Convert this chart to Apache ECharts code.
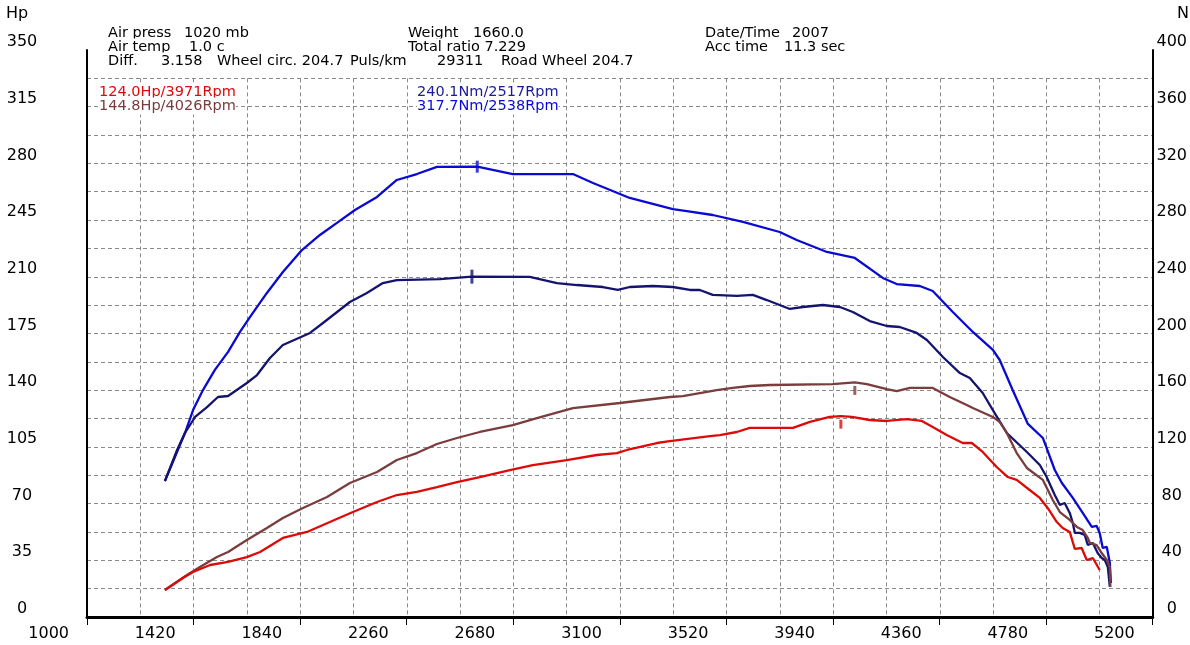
<!DOCTYPE html>
<html>
<head>
<meta charset="utf-8">
<script src="https://cdn.jsdelivr.net/npm/echarts@6/dist/echarts.min.js"></script>
<style>
  html, body { margin: 0; padding: 0; background: #fff; }
  #chart { width: 1190px; height: 645px; }
</style>
</head>
<body>
<div id="chart"></div>
<script>
// wheel power (Hp, left axis)
const rpmWheelHp = [1307,1378,1418,1485,1556,1630,1682,1772,1867,1957,2048,2143,2221,2300,2379,2458,2548,2667,2757,2891,3009,3088,3128,3246,3297,3455,3494,3561,3612,3782,3849,3927,3971,4014,4085,4152,4231,4290,4333,4388,4451,4487,4530,4585,4629,4664,4715,4755,4786,4822,4845,4873,4893,4920,4940,4964,4991];
const wheelHp = [16.7,24.1,27.8,32.1,34.0,37.0,40.1,48.8,52.5,58.6,64.8,71.0,75.3,77.2,80.2,83.3,86.4,90.7,93.8,96.9,100.0,101.2,103.1,107.4,108.6,111.7,112.3,114.2,116.7,116.7,120.4,123.5,124.0,123.5,121.6,121.0,122.2,121.0,117.3,112.3,107.4,107.4,101.9,92.6,86.4,84.6,78.4,73.5,67.3,58.6,54.9,52.5,42.0,42.6,35.2,36.4,29.0];

// engine power (Hp, left axis)
const rpmEngHp = [1307,1394,1445,1512,1556,1630,1709,1772,1851,1946,2036,2143,2221,2300,2379,2458,2548,2678,2773,2915,3100,3297,3348,3482,3545,3612,3691,3939,4026,4073,4152,4191,4243,4333,4400,4467,4491,4570,4597,4625,4664,4704,4767,4806,4834,4873,4901,4924,4944,4952,4979,4999,5019,5031,5033];
const engHp = [16.7,25.9,30.9,37.0,40.1,47.5,54.9,61.1,67.3,74.1,82.7,89.5,96.9,101.2,106.8,110.5,114.2,118.5,122.8,129.0,132.1,135.8,136.4,140.1,141.4,142.6,143.2,143.8,144.8,143.8,140.7,139.5,141.4,141.4,135.8,130.9,129.0,123.5,120.4,113.6,101.2,92.0,84.6,72.2,64.8,59.9,55.6,53.7,48.8,45.7,44.4,39.5,35.2,30.9,18.5];

// wheel torque (Nm, right axis)
const rpmWheelTq = [1307,1355,1386,1426,1473,1516,1556,1630,1670,1721,1772,1879,1930,2036,2103,2166,2221,2391,2517,2745,2852,2931,3033,3092,3139,3230,3309,3376,3415,3466,3561,3624,3679,3770,3821,3900,3967,4018,4085,4152,4203,4270,4310,4373,4440,4479,4530,4570,4625,4704,4755,4782,4814,4834,4853,4873,4885,4893,4912,4932,4944,4964,4983,4999,5011,5023,5031];
const wheelTq = [95.9,117.8,129.8,141.1,148.1,155.2,155.9,165.1,170.7,182.7,191.9,200.4,207.4,222.2,228.6,235.6,237.7,238.4,240.1,239.9,235.6,234.2,232.8,230.7,232.8,233.5,232.8,230.7,230.7,227.2,226.5,227.2,223.6,217.3,218.7,220.1,218.7,215.2,208.8,205.3,204.6,200.4,195.4,183.4,172.1,168.6,158.0,146.0,129.8,116.4,107.2,98.8,86.1,79.0,80.4,73.4,66.3,59.3,59.3,57.9,50.8,52.2,45.1,41.6,40.2,35.3,21.2];

// engine torque (Nm, right axis)
const rpmEngTq = [1307,1386,1418,1457,1504,1556,1603,1642,1709,1772,1847,1918,1985,2056,2143,2221,2300,2379,2538,2678,2915,2994,3139,3309,3364,3466,3585,3730,3797,3916,4026,4136,4191,4282,4333,4412,4491,4570,4597,4648,4708,4767,4814,4842,4885,4924,4960,4979,4991,5003,5019,5031,5035];
const engTq = [95.9,129.8,146.0,160.1,174.3,187.0,201.1,211.6,228.6,243.4,258.9,269.5,278.0,287.1,296.3,308.3,312.5,317.5,317.7,312.5,312.5,306.2,295.6,287.8,286.4,283.6,278.7,271.6,266.0,257.5,253.3,239.2,234.9,233.5,230.0,215.2,201.1,188.4,181.3,160.1,136.2,126.3,103.7,94.5,84.0,73.4,63.5,64.2,59.3,48.7,49.4,38.1,24.0];

// peaks [rpm, value]
const wheelHpPeak = [3971, 124.0];
const engHpPeak = [4026, 144.8];
const wheelTqPeak = [2517, 240.1];
const engTqPeak = [2538, 317.7];

// axis ticks
const rpmMin = 1000, rpmMax = 5200, rpmStep = 420;
const hpMax = 350, hpStep = 35;
const nmMax = 400, nmStep = 40;

const RED = '#dd0a0a', BROWN = '#7a3c3c', NAVY = '#14146e', BLUE = '#0a0ad0';
const FONT = '"DejaVu Sans", sans-serif';

function zip(xs, ys) { return xs.map(function (x, i) { return [x, ys[i]]; }); }
function plain(v) { return String(v); }

const chart = echarts.init(document.getElementById('chart'));

function txt(x, y, text, color, z2) {
    return {
        type: 'text', x: x, y: y, z: 100, z2: z2,
        style: {
            text: text, fill: color || '#000',
            fontSize: 14.5, fontFamily: FONT,
            verticalAlign: 'middle',
            backgroundColor: '#fff', padding: [2, 0, 0, 0]
        }
    };
}

const axisLine = { show: true, onZero: false, lineStyle: { color: '#000', width: 2 } };
const labelStyle = { color: '#000', fontSize: 16, fontFamily: FONT, formatter: plain };
const gridStyle = { show: true, lineStyle: { color: '#8a8a8a', type: [4, 3], width: 1 } };

chart.setOption({
    animation: false,
    backgroundColor: '#fff',
    grid: [
        { left: 87, right: 37, top: 50, bottom: 28 },
        { left: 87, right: 37, top: 78.35, bottom: 28 }
    ],
    xAxis: [
        {
            type: 'value', gridIndex: 0, min: rpmMin, max: rpmMax, interval: rpmStep,
            axisLine: { show: true, onZero: false, lineStyle: { color: '#000', width: 3 } },
            axisTick: { show: true, length: 8, lineStyle: { color: '#000', width: 1 } },
            axisLabel: Object.assign({ align: 'right', padding: [0, 18, 0, 0], margin: 9 }, labelStyle),
            splitLine: { show: false }
        },
        {
            type: 'value', gridIndex: 1, min: rpmMin, max: rpmMax, interval: rpmStep / 2,
            axisLine: { show: false }, axisTick: { show: false }, axisLabel: { show: false },
            splitLine: gridStyle
        }
    ],
    yAxis: [
        {
            type: 'value', gridIndex: 0, min: 0, max: hpMax, interval: hpStep, position: 'left',
            axisLine: axisLine, axisTick: { show: false },
            axisLabel: Object.assign({ align: 'center', verticalAlign: 'bottom', margin: 65 }, labelStyle),
            splitLine: { show: false }
        },
        {
            type: 'value', gridIndex: 0, min: 0, max: nmMax, interval: nmStep, position: 'right',
            axisLine: axisLine, axisTick: { show: false },
            axisLabel: Object.assign({ align: 'center', verticalAlign: 'bottom', margin: 19 }, labelStyle),
            splitLine: { show: false }
        },
        {
            type: 'value', gridIndex: 1, min: 0, max: 19, interval: 1,
            axisLine: { show: false }, axisTick: { show: false }, axisLabel: { show: false },
            splitLine: gridStyle
        }
    ],
    series: [
        {
            type: 'line', xAxisIndex: 0, yAxisIndex: 1, data: zip(rpmEngTq, engTq),
            showSymbol: false, lineStyle: { color: BLUE, width: 2.3 }, z: 3
        },
        {
            type: 'line', xAxisIndex: 0, yAxisIndex: 1, data: zip(rpmWheelTq, wheelTq),
            showSymbol: false, lineStyle: { color: NAVY, width: 2.3 }, z: 4
        },
        {
            type: 'line', xAxisIndex: 0, yAxisIndex: 0, data: zip(rpmEngHp, engHp),
            showSymbol: false, lineStyle: { color: BROWN, width: 2.3 }, z: 5
        },
        {
            type: 'line', xAxisIndex: 0, yAxisIndex: 0, data: zip(rpmWheelHp, wheelHp),
            showSymbol: false, lineStyle: { color: RED, width: 2.3 }, z: 6
        },
        {
            type: 'scatter', xAxisIndex: 0, yAxisIndex: 1, data: [engTqPeak],
            symbol: 'rect', symbolSize: [3, 12], itemStyle: { color: BLUE }, z: 7
        },
        {
            type: 'scatter', xAxisIndex: 0, yAxisIndex: 1, data: [wheelTqPeak],
            symbol: 'rect', symbolSize: [3, 14], itemStyle: { color: NAVY }, z: 7
        },
        {
            type: 'scatter', xAxisIndex: 0, yAxisIndex: 0, data: [engHpPeak],
            symbol: 'rect', symbolSize: [3, 9], symbolOffset: [0, 8], itemStyle: { color: BROWN }, z: 7
        },
        {
            type: 'scatter', xAxisIndex: 0, yAxisIndex: 0, data: [wheelHpPeak],
            symbol: 'rect', symbolSize: [3, 9], symbolOffset: [0, 8], itemStyle: { color: RED }, z: 7
        }
    ],
    graphic: [
        { type: 'text', x: 6, y: 14, z: 100, style: { text: 'Hp', fontSize: 16, fontFamily: FONT, fill: '#000', verticalAlign: 'middle' } },
        { type: 'text', x: 1177, y: 14, z: 100, style: { text: 'Nm', fontSize: 16, fontFamily: FONT, fill: '#000', verticalAlign: 'middle' } },

        txt(108, 33, 'Air press', '#000', 1),
        txt(184, 33, '1020 mb', '#000', 1),
        txt(408, 33, 'Weight', '#000', 1),
        txt(473, 33, '1660.0', '#000', 1),
        txt(705, 33, 'Date/Time', '#000', 1),
        txt(792, 33, '2007', '#000', 1),

        txt(108, 47, 'Air temp', '#000', 2),
        txt(189, 47, '1.0 c', '#000', 2),
        txt(408, 47, 'Total ratio 7.229', '#000', 2),
        txt(705, 47, 'Acc time', '#000', 2),
        txt(784, 47, '11.3 sec', '#000', 2),

        txt(108, 61, 'Diff.', '#000', 3),
        txt(161, 61, '3.158', '#000', 3),
        txt(217, 61, 'Wheel circ. 204.7', '#000', 3),
        txt(350, 61, 'Puls/km', '#000', 3),
        txt(437, 61, '29311', '#000', 3),
        txt(501, 61, 'Road Wheel 204.7', '#000', 3),

        txt(99, 92, wheelHpPeak[1].toFixed(1) + 'Hp/' + wheelHpPeak[0] + 'Rpm', RED, 4),
        txt(417, 92, wheelTqPeak[1].toFixed(1) + 'Nm/' + wheelTqPeak[0] + 'Rpm', '#1a1a9a', 4),
        txt(99, 106, engHpPeak[1].toFixed(1) + 'Hp/' + engHpPeak[0] + 'Rpm', BROWN, 5),
        txt(417, 106, engTqPeak[1].toFixed(1) + 'Nm/' + engTqPeak[0] + 'Rpm', BLUE, 5)
    ]
});
</script>
</body>
</html>
